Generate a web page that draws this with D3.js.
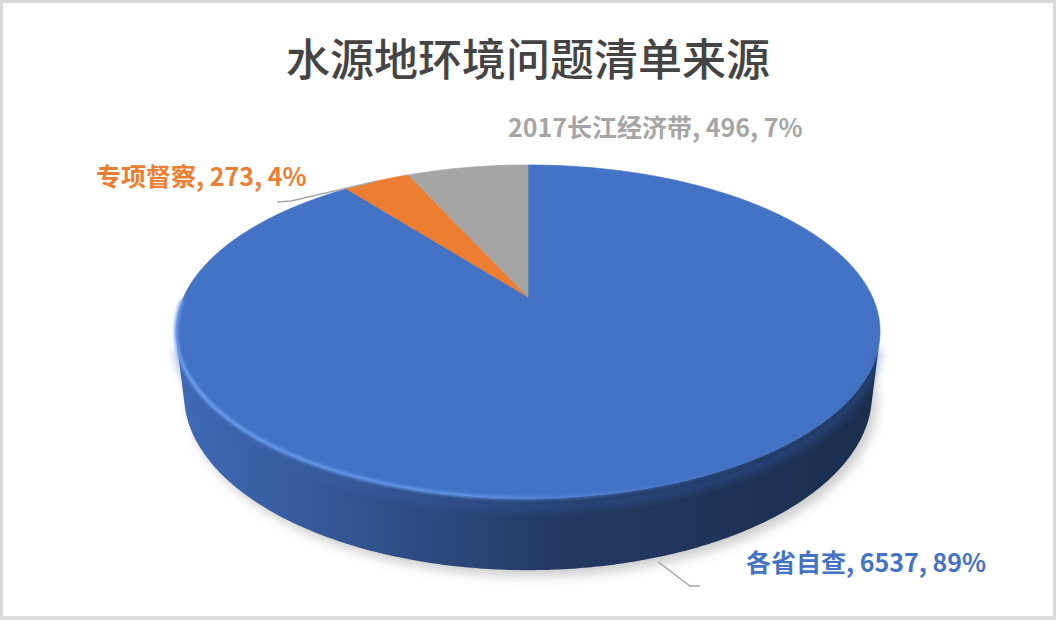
<!DOCTYPE html>
<html>
<head>
<meta charset="utf-8">
<script src="https://cdn.jsdelivr.net/npm/d3@7"></script>
<style>
  html, body { margin: 0; padding: 0; background: #fff; }
  svg { display: block; }
  text { font-family: "Noto Sans CJK SC", "Noto Sans", sans-serif; }
</style>
</head>
<body>
<svg id="chart" width="1056" height="620"></svg>
<script>
// Sources of the water-source environmental problem list
const categories = ["各省自查", "专项督察", "2017长江经济带"];
const values = [6537, 273, 496];
const sliceColors = ["#4472c4", "#ed7d31", "#a5a5a5"];
const titleText = "水源地环境问题清单来源";

const W = 1056, H = 620;
const svg = d3.select("#chart");

// frame
svg.append("rect")
  .attr("x", 1.5).attr("y", 1.5).attr("width", W - 3).attr("height", H - 4)
  .attr("fill", "#fff").attr("stroke", "#d9d9d9").attr("stroke-width", 3);
svg.append("rect")
  .attr("x", 0).attr("y", H - 4).attr("width", W).attr("height", 4)
  .attr("fill", "#dcdcdc");

// title
svg.append("text")
  .attr("x", 528).attr("y", 57)
  .attr("text-anchor", "middle")
  .attr("dominant-baseline", "central")
  .attr("font-size", 44).attr("font-weight", 500)
  .attr("fill", "#444")
  .text(titleText);

// ---- perspective projection of a flat cylinder ----
const cam = { cx: 528, cy: 297, f: 1472, D: 4.274, tilt: Math.asin(0.463) };
const cosT = Math.cos(cam.tilt), sinT = Math.sin(cam.tilt);
const depth = 0.207; // cylinder height relative to radius

// phi: clockwise from far point (same convention as d3.pie), r: radius, y: height
function project(phi, r, y) {
  const x = r * Math.sin(phi), z = r * Math.cos(phi);
  const u = y * cosT + z * sinT;
  const w = cam.D + z * cosT - y * sinT;
  return [cam.cx + cam.f * x / w, cam.cy - cam.f * u / w];
}

function arcPoints(a0, a1, y) {
  const n = Math.max(2, Math.ceil((a1 - a0) / 0.01));
  return d3.range(n + 1).map(i => project(a0 + (a1 - a0) * i / n, 1, y));
}

const pie = d3.pie().sort(null).value(d => d)
  .startAngle(0).endAngle(2 * Math.PI);
const arcs = pie(values);
const total = d3.sum(values);
const pct = d3.format(".0%");
const line = d3.line();

const defs = svg.append("defs");

// soft shadow beneath the disc
const shadowF = defs.append("filter").attr("id", "shadowBlur")
  .attr("x", "-20%").attr("y", "-20%").attr("width", "140%").attr("height", "140%");
shadowF.append("feGaussianBlur").attr("stdDeviation", 6);

const softF = defs.append("filter").attr("id", "soft")
  .attr("x", "-10%").attr("y", "-10%").attr("width", "120%").attr("height", "120%");
softF.append("feGaussianBlur").attr("stdDeviation", 1.4);

const rimF = defs.append("filter").attr("id", "rimBlur")
  .attr("x", "-10%").attr("y", "-50%").attr("width", "120%").attr("height", "200%");
rimF.append("feGaussianBlur").attr("stdDeviation", 4);

// x extent of the disc silhouette
const outline = arcPoints(0, 2 * Math.PI, 0);
const xMin = d3.min(outline, p => p[0]), xMax = d3.max(outline, p => p[0]);

// side-wall gradients per slice (lit from the left)
arcs.forEach((a, i) => {
  const base = d3.color(sliceColors[i]);
  const g = defs.append("linearGradient").attr("id", "wall" + i)
    .attr("gradientUnits", "userSpaceOnUse")
    .attr("x1", xMin).attr("x2", xMax).attr("y1", 0).attr("y2", 0);
  g.append("stop").attr("offset", "0%").attr("stop-color", d3.interpolateRgb(base, "#000")(0.06));
  g.append("stop").attr("offset", "22%").attr("stop-color", d3.interpolateRgb(base, "#000")(0.24));
  g.append("stop").attr("offset", "55%").attr("stop-color", d3.interpolateRgb(base, "#000")(0.5));
  g.append("stop").attr("offset", "100%").attr("stop-color", d3.interpolateRgb(base, "#000")(0.6));
});

// shadow
const bottomOutline = arcPoints(0, 2 * Math.PI, -depth);
svg.append("path")
  .attr("d", line(bottomOutline) + "Z")
  .attr("transform", "translate(5,6)")
  .attr("fill", "#000").attr("opacity", 0.2)
  .attr("filter", "url(#shadowBlur)");

// visible part of the outer wall: cos(phi) < -1/(D cos tilt)
const lim = Math.acos(-1 / (cam.D * cosT));
const visA = lim, visB = 2 * Math.PI - lim;

const wallG = svg.append("g");
arcs.forEach((a, i) => {
  const a0 = Math.max(a.startAngle, visA), a1 = Math.min(a.endAngle, visB);
  if (a1 <= a0) return;
  const topE = arcPoints(a0, a1, 0);
  const botE = arcPoints(a0, a1, -depth).reverse();
  wallG.append("path")
    .attr("d", line(topE.concat(botE)) + "Z")
    .attr("fill", `url(#wall${i})`);
});

// top faces
const center = project(0, 0, 0);
const topG = svg.append("g");
arcs.forEach((a, i) => {
  const pts = [center].concat(arcPoints(a.startAngle, a.endAngle, 0));
  topG.append("path")
    .attr("d", line(pts) + "Z")
    .attr("fill", sliceColors[i])
    .attr("stroke", sliceColors[i]).attr("stroke-width", 0.6);
});

// bevel: soft light rim where the top face meets the wall
const rimGrad = defs.append("linearGradient").attr("id", "rimGrad")
  .attr("gradientUnits", "userSpaceOnUse")
  .attr("x1", xMin).attr("x2", xMax).attr("y1", 0).attr("y2", 0);
rimGrad.append("stop").attr("offset", "0%").attr("stop-color", "#72a4f4").attr("stop-opacity", 1);
rimGrad.append("stop").attr("offset", "45%").attr("stop-color", "#6298ee").attr("stop-opacity", 0.9);
rimGrad.append("stop").attr("offset", "75%").attr("stop-color", "#4a7ad0").attr("stop-opacity", 0.35);
rimGrad.append("stop").attr("offset", "100%").attr("stop-color", "#4472c4").attr("stop-opacity", 0);

// soft transition at the top of the wall
const rimPts = arcPoints(visA - 0.25, visB + 0.25, 0);
svg.append("path")
  .attr("d", line(arcPoints(visA, visB, -depth * 0.12)))
  .attr("fill", "none").attr("stroke", "#3a64b0").attr("stroke-width", 6)
  .attr("opacity", 0.55).attr("filter", "url(#rimBlur)");
svg.append("path")
  .attr("d", line(rimPts))
  .attr("fill", "none").attr("stroke", "url(#rimGrad)").attr("stroke-width", 3.5)
  .attr("filter", "url(#soft)");

// labels
const labelFmt = (i) => `${categories[i]}, ${values[i]}, ${pct(values[i] / total)}`;
const labelSpecs = [
  { i: 0, x: 746, y: 561, color: "#4472c4" },
  { i: 1, x: 96, y: 175, color: "#ed7d31" },
  { i: 2, x: 508, y: 126, color: "#a5a5a5" }
];
const labelG = svg.append("g");
labelSpecs.forEach(s => {
  labelG.append("text")
    .attr("x", s.x).attr("y", s.y)
    .attr("dominant-baseline", "central")
    .attr("font-size", 25).attr("font-weight", 700)
    .attr("fill", s.color)
    .text(labelFmt(s.i));
});

// leader lines
const mid = a => (a.startAngle + a.endAngle) / 2;
const leaderG = svg.append("g").attr("fill", "none")
  .attr("stroke", "#a6a6a6").attr("stroke-width", 1.5);
{
  const p = project(mid(arcs[1]), 1, 0);
  leaderG.append("path").attr("d", line([[277, 202], [291, 201], p]));
}
{
  const p = project(mid(arcs[0]), 1, -depth);
  leaderG.append("path").attr("d", line([[p[0] - 5, p[1] + 6], [690, 586], [700, 586]]));
}
</script>
</body>
</html>
